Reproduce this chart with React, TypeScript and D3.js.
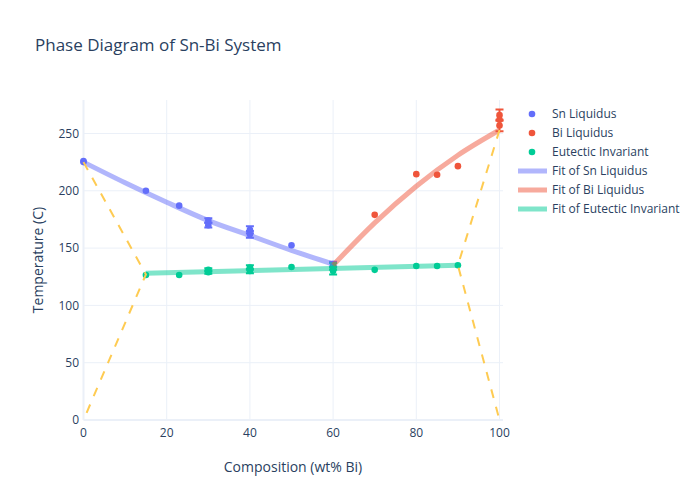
import * as d3 from 'd3';
import React, { useEffect, useRef } from 'react';

// measured points (composition wt% Bi, temperature C, error)
const snComp = [0, 0, 15, 23, 30, 30, 40, 40, 50, 60];
const snTemp = [225, 226, 200, 187, 174, 170, 166, 162, 152.5, 136];
const snErr = [0, 0, 0, 0, 2, 2, 3, 3, 0, 2];

const biComp = [60, 70, 80, 85, 90, 100, 100, 100];
const biTemp = [132, 179, 214.5, 214, 221.5, 266, 262, 257];
const biErr = [0, 0, 0, 0, 0, 5, 0, 5];

const euComp = [15, 23, 30, 30, 40, 40, 50, 60, 60, 70, 80, 85, 90];
const euTemp = [126.5, 126.5, 129, 131, 130, 133, 133.5, 130, 134, 131, 134.4, 134.4, 135];
const euErr = [0, 0, 1.5, 1.5, 2, 2, 0, 3, 3, 0, 0, 0, 0];

// fitted curves
const snFitComp = [0, 10, 20, 30, 40, 50, 60];
const snFitTemp = [225, 207, 190, 174, 161, 148, 136];
const biFitComp = [60, 70, 80, 90, 100];
const biFitTemp = [135, 172, 204, 231, 253];
const euFitComp = [15, 90];
const euFitTemp = [128, 135];

// construction lines
const leftDashComp = [0, 15, 0];
const leftDashTemp = [225, 127, 0];
const rightDashComp = [100, 90, 100];
const rightDashTemp = [253, 135, 0];

const xTicks = [0, 20, 40, 60, 80, 100];
const yTicks = [0, 50, 100, 150, 200, 250];

const seriesNames = ['Sn Liquidus', 'Bi Liquidus', 'Eutectic Invariant', 'Fit of Sn Liquidus', 'Fit of Bi Liquidus', 'Fit of Eutectic Invariant'];

const FONT = '"Open Sans", verdana, arial, sans-serif';
const TEXT = '#2a3f5f';
const GRID = '#EBF0F8';
const BLUE = '#636efa';
const RED = '#EF553B';
const GREEN = '#00cc96';
const DASH = '#FECB52';

const App: React.FC = () => {
  const ref = useRef<SVGSVGElement | null>(null);

  useEffect(() => {
    if (!ref.current) return;
    const svg = d3.select(ref.current);
    svg.selectAll('*').remove();

    const x = d3.scaleLinear().domain([0, 100.84]).range([83.5, 503]);
    const y = d3.scaleLinear().domain([0, 279.2]).range([420, 100]);

    // grid
    const grid = svg.append('g');
    grid.selectAll('.vg').data(xTicks.filter(d => d !== 0)).enter().append('line')
      .attr('x1', d => x(d)).attr('x2', d => x(d)).attr('y1', 100).attr('y2', 420)
      .attr('stroke', GRID).attr('stroke-width', 1);
    grid.selectAll('.hg').data(yTicks.filter(d => d !== 0)).enter().append('line')
      .attr('y1', d => y(d)).attr('y2', d => y(d)).attr('x1', 83.5).attr('x2', 503)
      .attr('stroke', GRID).attr('stroke-width', 1);
    // zero lines
    grid.append('line').attr('x1', x(0)).attr('x2', x(0)).attr('y1', 100).attr('y2', 420)
      .attr('stroke', GRID).attr('stroke-width', 2);
    grid.append('line').attr('x1', 83.5).attr('x2', 503).attr('y1', y(0)).attr('y2', y(0))
      .attr('stroke', GRID).attr('stroke-width', 2);

    // tick labels
    svg.append('g').selectAll('text').data(xTicks).enter().append('text')
      .attr('x', d => x(d)).attr('y', 437).attr('text-anchor', 'middle')
      .attr('font-family', FONT).attr('font-size', 12).attr('fill', TEXT)
      .text(d => d);
    svg.append('g').selectAll('text').data(yTicks).enter().append('text')
      .attr('x', 79).attr('y', d => y(d)).attr('dy', '0.35em').attr('text-anchor', 'end')
      .attr('font-family', FONT).attr('font-size', 12).attr('fill', TEXT)
      .text(d => d);

    const line = d3.line<[number, number]>()
      .x(d => x(d[0])).y(d => y(d[1]));
    const smooth = d3.line<[number, number]>()
      .x(d => x(d[0])).y(d => y(d[1])).curve(d3.curveMonotoneX);

    const plot = svg.append('g');

    // points with error bars
    const drawPoints = (comp: number[], temp: number[], err: number[], color: string) => {
      const g = plot.append('g');
      comp.forEach((c, i) => {
        if (err[i] > 0) {
          const cx = x(c);
          const top = y(temp[i] + err[i]);
          const bot = y(temp[i] - err[i]);
          g.append('path')
            .attr('d', `M${cx},${top}V${bot}M${cx - 4},${top}H${cx + 4}M${cx - 4},${bot}H${cx + 4}`)
            .attr('stroke', color).attr('stroke-width', 2).attr('fill', 'none');
        }
      });
      g.selectAll('circle').data(comp).enter().append('circle')
        .attr('cx', d => x(d)).attr('cy', (_d, i) => y(temp[i])).attr('r', 3.3)
        .attr('fill', color);
    };
    drawPoints(snComp, snTemp, snErr, BLUE);
    drawPoints(biComp, biTemp, biErr, RED);
    drawPoints(euComp, euTemp, euErr, GREEN);

    // fits
    const fits: [number[], number[], string][] = [
      [snFitComp, snFitTemp, BLUE],
      [biFitComp, biFitTemp, RED],
      [euFitComp, euFitTemp, GREEN],
    ];
    fits.forEach(([cs, ts, color]) => {
      plot.append('path')
        .attr('d', smooth(cs.map((c, i) => [c, ts[i]] as [number, number])))
        .attr('stroke', color).attr('stroke-width', 5).attr('stroke-opacity', 0.5)
        .attr('fill', 'none');
    });

    // dashed construction lines
    [[leftDashComp, leftDashTemp], [rightDashComp, rightDashTemp]].forEach(([cs, ts]) => {
      plot.append('path')
        .attr('d', line(cs.map((c, i) => [c, ts[i]] as [number, number])))
        .attr('stroke', DASH).attr('stroke-width', 2).attr('stroke-dasharray', '9,9')
        .attr('fill', 'none');
    });

    // legend
    const legendColors = [BLUE, RED, GREEN, BLUE, RED, GREEN];
    const legend = svg.append('g');
    seriesNames.forEach((name, i) => {
      const ly = 114 + i * 19;
      if (i < 3) {
        legend.append('circle').attr('cx', 532).attr('cy', ly).attr('r', 3.3).attr('fill', legendColors[i]);
      } else {
        legend.append('line').attr('x1', 518).attr('x2', 547).attr('y1', ly).attr('y2', ly)
          .attr('stroke', legendColors[i]).attr('stroke-width', 5).attr('stroke-opacity', 0.5);
      }
      legend.append('text').attr('x', 552).attr('y', ly).attr('dy', '0.35em')
        .attr('font-family', FONT).attr('font-size', 12).attr('fill', TEXT)
        .text(name);
    });

    // titles
    svg.append('text').attr('x', 35).attr('y', 51)
      .attr('font-family', FONT).attr('font-size', 17).attr('fill', TEXT)
      .text('Phase Diagram of Sn-Bi System');
    svg.append('text').attr('x', 293).attr('y', 472).attr('text-anchor', 'middle')
      .attr('font-family', FONT).attr('font-size', 14).attr('fill', TEXT)
      .text('Composition (wt% Bi)');
    svg.append('text').attr('transform', 'translate(43,260) rotate(-90)').attr('text-anchor', 'middle')
      .attr('font-family', FONT).attr('font-size', 14).attr('fill', TEXT)
      .text('Temperature (C)');
  }, []);

  return (
    <svg ref={ref} width={700} height={500}
      style={{ position: 'absolute', left: 0, top: 0, background: '#fff' }} />
  );
};

export default App;
